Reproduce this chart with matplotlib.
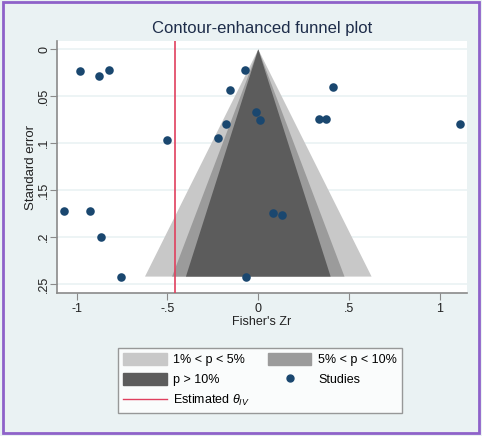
import matplotlib
matplotlib.use('Agg')
import matplotlib.pyplot as plt
import matplotlib.patches as mpatches
import matplotlib.lines as mlines
import numpy as np

plt.rcParams['font.family'] = ['Liberation Sans', 'DejaVu Sans']
plt.rcParams['mathtext.fontset'] = 'custom'
plt.rcParams['mathtext.rm'] = 'Liberation Sans'
plt.rcParams['mathtext.it'] = 'Liberation Sans:italic'

# study estimates (Fisher's Zr) and standard errors
zr = [-0.983, -0.878, -0.823, -0.072, -0.155, 0.409, -0.013, 0.009, 0.335, 0.374,
      1.11, -0.501, -0.223, -0.18, -1.068, -0.928, -0.867, -0.755, -0.068, 0.079, 0.133]
se = [0.0235, 0.0288, 0.0214, 0.0224, 0.0427, 0.0395, 0.067, 0.0748, 0.0737, 0.0737,
      0.080, 0.0962, 0.0947, 0.0798, 0.1717, 0.1717, 0.200, 0.2421, 0.2421, 0.1745, 0.1766]
theta_iv = -0.46
# critical z values for contour bands: 1%, 5%, 10%
z_crit = [2.576, 1.96, 1.645]
band_colors = ['#c8c8c8', '#9b9b9b', '#5c5c5c']
band_labels = ['1% < p < 5%', '5% < p < 10%', 'p > 10%']

xticks = [-1, -0.5, 0, 0.5, 1]
xticklabels = ['-1', '-.5', '0', '.5', '1']
yticks = [0, 0.05, 0.1, 0.15, 0.2, 0.25]
yticklabels = ['0', '.05', '.1', '.15', '.2', '.25']

bg = '#eaf2f3'
fig = plt.figure(figsize=(4.82, 4.36), dpi=100, facecolor=bg)
ax = fig.add_axes([57/482, 1-293/436, 410/482, 252/436])
ax.set_facecolor('white')

semax = max(se)
for z, c in zip(z_crit, band_colors):
    ax.fill([0, -z*semax, z*semax], [0, semax, semax], color=c, lw=0, zorder=2)

ax.axvline(theta_iv, color='#e0405e', lw=1.2, zorder=3)
ax.scatter(zr, se, s=38, color='#1a476f', zorder=4, linewidths=0)

ax.set_xlim(-1.108, 1.149)
ax.set_ylim(0.2596, -0.009)
ax.set_xticks(xticks)
ax.set_xticklabels(xticklabels)
ax.set_yticks(yticks)
ax.set_yticklabels(yticklabels, rotation=90, va='center')
ax.yaxis.grid(True, color=bg, lw=1.2, zorder=1)
ax.set_axisbelow(True)
for s in ['top', 'right']:
    ax.spines[s].set_visible(False)
for s in ['left', 'bottom']:
    ax.spines[s].set_color('#8a8a8a')
    ax.spines[s].set_linewidth(1.2)
ax.tick_params(colors='#8a8a8a', labelcolor='#222222', labelsize=9, length=5, pad=2)
ax.tick_params(axis='y', pad=0)
ax.set_xlabel("Fisher's Zr", fontsize=9, color='#222222', labelpad=1)
ax.set_ylabel('Standard error', fontsize=9.5, color='#222222')
ax.yaxis.set_label_coords(-20/410, 0.5)
fig.text(262/482, 1-28/436, 'Contour-enhanced funnel plot', ha='center', va='center',
         fontsize=12, color='#1e2d4a')

h_light = mpatches.Patch(color=band_colors[0], label=band_labels[0])
h_mid = mpatches.Patch(color=band_colors[1], label=band_labels[1])
h_dark = mpatches.Patch(color=band_colors[2], label=band_labels[2])
h_pts = mlines.Line2D([], [], marker='o', ls='', color='#1a476f', markersize=5, label='Studies')
h_line = mlines.Line2D([], [], color='#e0405e', lw=1, label=r'Estimated $\theta_{IV}$')
leg = fig.legend(handles=[h_light, h_dark, h_line, h_mid, h_pts], ncol=2,
                 loc='upper center', bbox_to_anchor=(260/482, 1-342/436),
                 frameon=True, fancybox=False, fontsize=9, handlelength=3.5,
                 handleheight=1.15, handletextpad=0.55, columnspacing=1.4,
                 borderpad=0.35, labelspacing=0.55)
leg.get_frame().set_edgecolor('#808080')
leg.get_frame().set_linewidth(1)

fig.patches.append(mpatches.Rectangle((3/482, 3/436), 476/482, 431/436, transform=fig.transFigure,
                                      fill=False, edgecolor='#8e62c9', lw=2))

fig.savefig('out.png', dpi=100, facecolor=bg)
